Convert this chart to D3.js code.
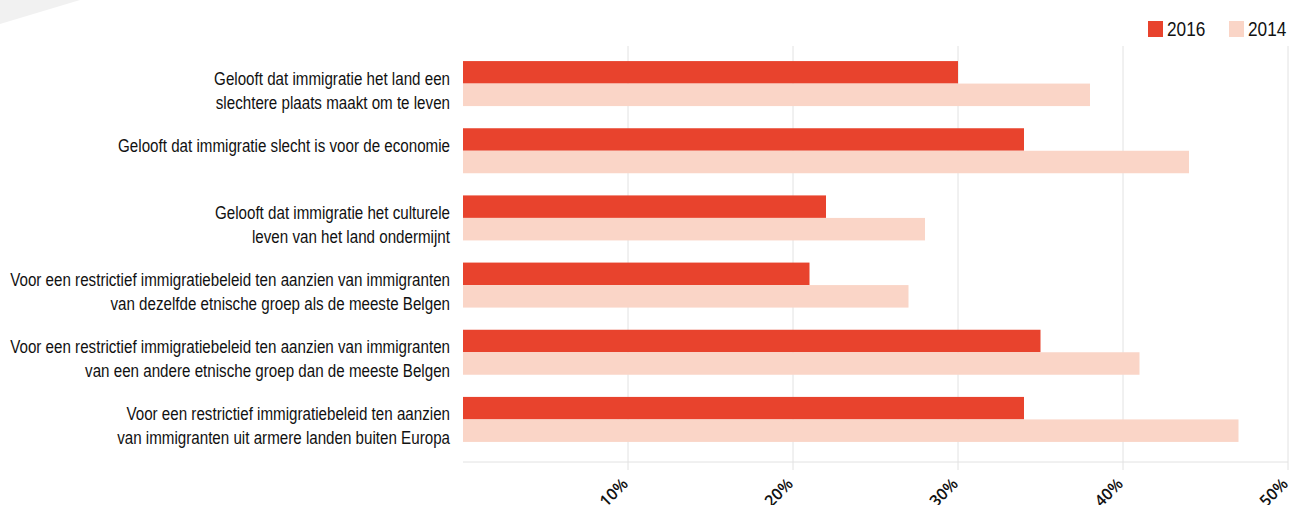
<!DOCTYPE html>
<html><head><meta charset="utf-8">
<script src="https://cdn.jsdelivr.net/npm/d3@7"></script>
<style>
body{margin:0;background:#fff;}
svg{display:block;}
</style></head>
<body>
<svg id="chart" width="1293" height="505"></svg>
<script>
const categories = [
  ["Gelooft dat immigratie het land een","slechtere plaats maakt om te leven"],
  ["Gelooft dat immigratie slecht is voor de economie"],
  ["Gelooft dat immigratie het culturele","leven van het land ondermijnt"],
  ["Voor een restrictief immigratiebeleid ten aanzien van immigranten","van dezelfde etnische groep als de meeste Belgen"],
  ["Voor een restrictief immigratiebeleid ten aanzien van immigranten","van een andere etnische groep dan de meeste Belgen"],
  ["Voor een restrictief immigratiebeleid ten aanzien","van immigranten uit armere landen buiten Europa"]
];
const seriesNames = ["2016","2014"];
const values2016 = [30, 34, 22, 21, 35, 34];
const values2014 = [38, 44, 28, 27, 41, 47];
const tickValues = [10, 20, 30, 40, 50];
const colors = {"2016":"#e8432d","2014":"#fad5c7"};

const svg = d3.select("#chart");
const labelFont = "'Liberation Sans',Arial,sans-serif";

// decoration top-left
svg.append("path").attr("d","M0,0 L80,0 Q40,12 0,24 Z").attr("fill","#f1f1f1");

const x = d3.scaleLinear().domain([0,50]).range([463,1288]);
const idx = d3.range(categories.length);
const y = d3.scaleBand().domain(idx).range([50,453]).paddingInner(0.33).paddingOuter(0.165);
const ys = d3.scaleBand().domain(seriesNames).range([0,y.bandwidth()]);

// gridlines
svg.append("g").selectAll("line").data(tickValues).join("line")
  .attr("x1",d=>x(d)).attr("x2",d=>x(d)).attr("y1",46).attr("y2",470)
  .attr("stroke","#e2e2e2").attr("stroke-width",1);
// baseline
svg.append("line").attr("x1",x(0)).attr("x2",x(50)).attr("y1",462).attr("y2",462)
  .attr("stroke","#e2e2e2").attr("stroke-width",1);

const data = idx.map(i=>({i, "2016":values2016[i], "2014":values2014[i]}));
const g = svg.append("g");
const grp = g.selectAll("g.row").data(data).join("g").attr("class","row")
  .attr("transform",d=>`translate(0,${y(d.i)})`);
grp.selectAll("rect").data(d=>seriesNames.map(s=>({s,v:d[s]}))).join("rect")
  .attr("x",x(0)).attr("y",d=>ys(d.s)).attr("height",ys.bandwidth())
  .attr("width",d=>x(d.v)-x(0)).attr("fill",d=>colors[d.s]);

// measure to get condensed scale
const fs = 18.5;
const probe = svg.append("text").attr("font-family",labelFont).attr("font-size",fs+"px")
  .text(categories[3][0]);
const k = 440 / probe.node().getComputedTextLength();
probe.remove();

// category labels
const labG = svg.append("g").attr("transform",`translate(450,0) scale(${k},1)`);
const lab = labG.selectAll("text").data(idx).join("text")
  .attr("text-anchor","end").attr("font-family",labelFont).attr("font-size",fs+"px").attr("fill","#111");
lab.each(function(i){
  const t=d3.select(this);
  categories[i].forEach((line,kk)=>{
    t.append("tspan").attr("x",0).attr("y",y(i)+y.bandwidth()/2 + 1 + kk*24).text(line);
  });
});

// x axis tick labels
const axis = d3.axisBottom(x).tickValues(tickValues).tickFormat(d=>d+"%").tickSize(0);
const ax = svg.append("g").call(axis);
ax.select(".domain").remove();
ax.selectAll(".tick").attr("transform",null);
ax.selectAll("text").attr("font-family","'Open Sans','Liberation Sans',Arial,sans-serif").attr("font-weight",600)
  .attr("font-size","16px").attr("fill","#111")
  .attr("text-anchor","end").attr("dy",null).attr("x",0).attr("y",0)
  .attr("transform",d=>`translate(${x(d)+1},485) rotate(-45)`);

// legend
const legX = {"2016":1148,"2014":1229};
seriesNames.forEach(s=>{
  svg.append("rect").attr("x",legX[s]).attr("y",21).attr("width",15).attr("height",16).attr("fill",colors[s]);
  svg.append("g").attr("transform",`translate(${legX[s]+19},36) scale(${k},1)`)
    .append("text").attr("font-family",labelFont)
    .attr("font-size","21px").attr("fill","#111").text(s);
});
</script>
</body></html>
